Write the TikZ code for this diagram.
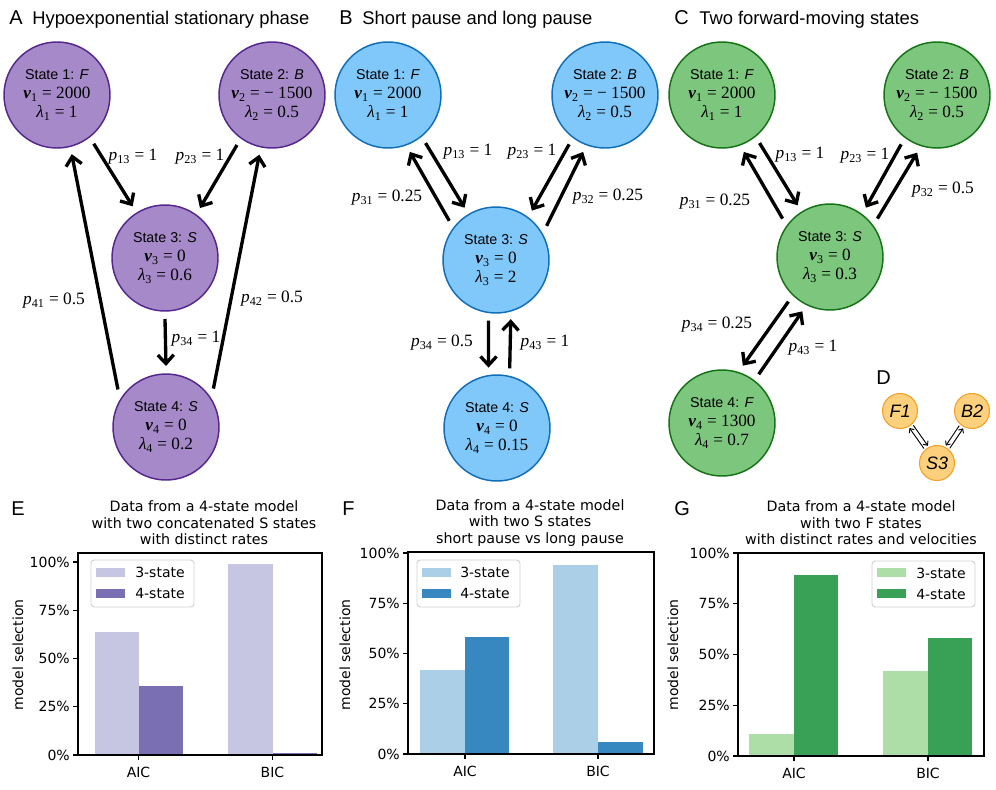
\documentclass[tikz,border=0pt]{standalone}
\usepackage{fontspec}
\setmainfont{Liberation Serif}
\newfontfamily\arial{Liberation Sans}
\newfontfamily\dejavu{DejaVu Sans}
\usetikzlibrary{arrows.meta}
\definecolor{pfill}{RGB}{166,137,200}
\definecolor{pedge}{RGB}{84,39,143}
\definecolor{bfill}{RGB}{128,200,250}
\definecolor{bedge}{RGB}{16,110,185}
\definecolor{gfill}{RGB}{125,198,125}
\definecolor{gedge}{RGB}{20,115,20}
\definecolor{dfill}{RGB}{253,208,125}
\definecolor{dedge}{RGB}{247,160,40}
\definecolor{elight}{RGB}{198,198,227}
\definecolor{edark}{RGB}{122,111,178}
\definecolor{flight}{RGB}{171,207,230}
\definecolor{fdark}{RGB}{55,135,192}
\definecolor{glight}{RGB}{173,222,167}
\definecolor{gdark}{RGB}{57,161,86}
\newcommand{\myv}[1]{\textbf{\textit{ν}}\textsubscript{#1}}
\newcommand{\mylam}[1]{\textit{λ}\textsubscript{#1}}
\newcommand{\myp}[1]{\textit{p}\textsubscript{#1}}
\newcommand{\stt}[4]{{\arial\fontsize{10.7}{14.25}\selectfont State #1: \textit{#2}}\\\myv{#1} = #3\\\mylam{#1} = #4}
\begin{document}
\begin{tikzpicture}[x=0.75pt,y=-0.75pt,
  st/.style={circle, minimum size=79.5pt, inner sep=0pt, outer sep=6pt, line width=1.1pt, align=center, font=\fontsize{12.9}{14.25}\selectfont},
  stA/.style={st, fill=pfill, draw=pedge},
  stB/.style={st, fill=bfill, draw=bedge},
  stC/.style={st, fill=gfill, draw=gedge},
  dst/.style={circle, minimum size=26.25pt, inner sep=0pt, outer sep=1.5pt, line width=0.8pt, fill=dfill, draw=dedge, font=\arial\itshape\fontsize{13.5}{15}\selectfont},
  lab/.style={inner sep=0pt, font=\fontsize{13}{14}\selectfont},
  arr/.style={line width=2.5pt, -{Straight Barb[length=6.5pt,width=12pt]}},
  darr/.style={line width=0.7pt, -{Straight Barb[length=2.5pt,width=4.5pt]}},
  letter/.style={anchor=base west, inner sep=0pt, font=\arial\fontsize{15}{18}\selectfont},
  ptitle/.style={anchor=base west, inner sep=0pt, font=\arial\fontsize{13.8}{16}\selectfont},
  ctitle/.style={inner sep=0pt, align=center, font=\dejavu\fontsize{10.7}{12.4}\selectfont},
  ctext/.style={inner sep=0pt, font=\dejavu\fontsize{10.5}{12}\selectfont},
  axisline/.style={line width=0.9pt, black},
  legbox/.style={draw=black!18, fill=white, rounded corners=2.5pt, line width=0.7pt}
]
\useasboundingbox (0,0) rectangle (996,789);

% ---------------- Panel A ----------------
\node[letter] (ltA) at (9,24) {A};
\node[ptitle] (ttA) at (32,24) {Hypoexponential stationary phase};
\node[stA] (a1) at (57,95) {\stt{1}{F}{2000}{1}};
\node[stA] (a2) at (272,95) {\stt{2}{B}{− 1500}{0.5}};
\node[stA] (a3) at (165,258) {\stt{3}{S}{0}{0.6}};
\node[stA] (a4) at (166,427) {\stt{4}{S}{0}{0.2}};
\draw[arr] (a1.-53.1) -- (a3.122.7);
\draw[arr] (a2.-125.9) -- (a3.55.5);
\draw[arr] (a4.142.1) -- (a1.-76.2);
\draw[arr] (a4.39.8) -- (a2.-102.2);
\draw[arr] (a3.-90) -- (a4.90);
\node[lab] (la13) at (133,157) {\myp{13} = 1};
\node[lab] (la23) at (200,157) {\myp{23} = 1};
\node[lab] (la41) at (54,301) {\myp{41} = 0.5};
\node[lab] (la42) at (272,299) {\myp{42} = 0.5};
\node[lab] (la34) at (196,339) {\myp{34} = 1};

% ---------------- Panel B ----------------
\node[letter] (ltB) at (339,24) {B};
\node[ptitle] (ttB) at (362,24) {Short pause and long pause};
\node[stB] (b1) at (388,95) {\stt{1}{F}{2000}{1}};
\node[stB] (b2) at (605,95) {\stt{2}{B}{− 1500}{0.5}};
\node[stB] (b3) at (496,260) {\stt{3}{S}{0}{2}};
\node[stB] (b4) at (497,428) {\stt{4}{S}{0}{0.15}};
\draw[arr] (b1.-52.5) -- (b3.121.7);
\draw[arr] (b3.140.4) -- (b1.-69.9);
\draw[arr] (b2.-126.7) -- (b3.54.6);
\draw[arr] (b3.34.2) -- (b2.-111.4);
\draw[arr] (b3.-97.6) -- (b4.98.1);
\draw[arr] (b4.78.2) -- (b3.-76.9);
\node[lab] (lb13) at (468,152) {\myp{13} = 1};
\node[lab] (lb23) at (532,152) {\myp{23} = 1};
\node[lab] (lb31) at (387,198) {\myp{31} = 0.25};
\node[lab] (lb32) at (608,197) {\myp{32} = 0.25};
\node[lab] (lb34) at (442,343) {\myp{34} = 0.5};
\node[lab] (lb43) at (545,343) {\myp{43} = 1};

% ---------------- Panel C ----------------
\node[letter] (ltC) at (674,24) {C};
\node[ptitle] (ttC) at (699,24) {Two forward-moving states};
\node[stC] (c1) at (722,95) {\stt{1}{F}{2000}{1}};
\node[stC] (c2) at (937,95) {\stt{2}{B}{− 1500}{0.5}};
\node[stC] (c3) at (830,257) {\stt{3}{S}{0}{0.3}};
\node[stC] (c4) at (722,423) {\stt{4}{F}{1300}{0.7}};
\draw[arr] (c1.-52.5) -- (c3.122.4);
\draw[arr] (c3.141.8) -- (c1.-69);
\draw[arr] (c2.-126.7) -- (c3.54.9);
\draw[arr] (c3.39.1) -- (c2.-109.3);
\draw[arr] (c3.-133.1) -- (c4.70.3);
\draw[arr] (c4.53.1) -- (c3.-117);
\node[lab] (lc13) at (800,155) {\myp{13} = 1};
\node[lab] (lc23) at (865,156) {\myp{23} = 1};
\node[lab] (lc31) at (715,202) {\myp{31} = 0.25};
\node[lab] (lc32) at (943,190) {\myp{32} = 0.5};
\node[lab] (lc34) at (717,325) {\myp{34} = 0.25};
\node[lab] (lc43) at (813,348) {\myp{43} = 1};

% ---------------- Panel D ----------------
\node[letter] (ltD) at (876,384) {D};
\node[dst] (dF) at (900,411) {F1};
\node[dst] (dB) at (972,411) {B2};
\node[dst] (dS) at (937,463) {S3};
\draw[darr] (dF.-47.6) -- (dS.118.4);
\draw[darr] (dS.132.4) -- (dF.-61.6);
\draw[darr] (dB.-131) -- (dS.63);
\draw[darr] (dS.49) -- (dB.-117);

% ---------------- Panel E ----------------
\node[letter] (ltE) at (11,515) {E};
\node[ctitle] (tE) at (204,523) {Data from a 4-state model\\with two concatenated S states\\with distinct rates};
\fill[elight] (95,631.5) rectangle (138.5,755);
\fill[edark] (138.5,685.5) rectangle (183,755);
\fill[elight] (228,564) rectangle (272.5,755);
\fill[edark] (272.5,753) rectangle (317,755);
\draw[axisline] (78,553) rectangle (322,755);
\foreach \v in {0,25,50,75,100} {
  \draw[axisline] (78,{755-1.93*\v}) -- ++(-5,0);
  \node[ctext, anchor=east] (eT\v) at (70,{755-1.93*\v}) {\v\%};
}
\draw[axisline] (138.5,755) -- ++(0,5);
\draw[axisline] (272.5,755) -- ++(0,5);
\node[ctext] (eA) at (138.5,772) {AIC};
\node[ctext] (eB) at (272.5,772) {BIC};
\node[ctext, rotate=90] (eY) at (18,655) {model selection};
\draw[legbox] (91,560) rectangle (194,607);
\fill[elight] (96,568) rectangle (125,577);
\fill[edark] (96,589) rectangle (125,598);
\node[ctext, anchor=west] (eL3) at (135,572.5) {3-state};
\node[ctext, anchor=west] (eL4) at (135,593.5) {4-state};

% ---------------- Panel F ----------------
\node[letter] (ltF) at (342,515) {F};
\node[ctitle] (tF) at (530,523) {Data from a 4-state model\\with two S states\\short pause vs long pause};
\fill[flight] (420,669.6) rectangle (465,754);
\fill[fdark] (465,637.4) rectangle (509,754);
\fill[flight] (553,565.1) rectangle (598,754);
\fill[fdark] (598,741.9) rectangle (643,754);
\draw[axisline] (408,552) rectangle (654,754);
\foreach \v in {0,25,50,75,100} {
  \draw[axisline] (408,{754-2.01*\v}) -- ++(-5,0);
  \node[ctext, anchor=east] (fT\v) at (400,{754-2.01*\v}) {\v\%};
}
\draw[axisline] (465,754) -- ++(0,5);
\draw[axisline] (598,754) -- ++(0,5);
\node[ctext] (fA) at (465,771) {AIC};
\node[ctext] (fB) at (598,771) {BIC};
\node[ctext, rotate=90] (fY) at (345,655) {model selection};
\draw[legbox] (417,560) rectangle (520,607);
\fill[flight] (422,567.5) rectangle (451,576.5);
\fill[fdark] (422,588.5) rectangle (451,597.5);
\node[ctext, anchor=west] (fL3) at (460,572) {3-state};
\node[ctext, anchor=west] (fL4) at (460,593) {4-state};

% ---------------- Panel G ----------------
\node[letter] (ltG) at (674,515) {G};
\node[ctitle] (tG) at (861,523) {Data from a 4-state model\\with two F states\\with distinct rates and velocities};
\fill[glight] (749,733.7) rectangle (794,756);
\fill[gdark] (794,575.3) rectangle (838,756);
\fill[glight] (883,670.7) rectangle (928,756);
\fill[gdark] (928,638.3) rectangle (972,756);
\draw[axisline] (738,553) rectangle (984,756);
\foreach \v in {0,25,50,75,100} {
  \draw[axisline] (738,{756-2.03*\v}) -- ++(-5,0);
  \node[ctext, anchor=east] (gT\v) at (730,{756-2.03*\v}) {\v\%};
}
\draw[axisline] (794,756) -- ++(0,5);
\draw[axisline] (928,756) -- ++(0,5);
\node[ctext] (gA) at (794,773) {AIC};
\node[ctext] (gB) at (928,773) {BIC};
\node[ctext, rotate=90] (gY) at (673,655) {model selection};
\draw[legbox] (872,561) rectangle (975,607);
\fill[glight] (877,568) rectangle (906,577);
\fill[gdark] (877,589) rectangle (906,598);
\node[ctext, anchor=west] (gL3) at (916,573) {3-state};
\node[ctext, anchor=west] (gL4) at (916,594) {4-state};
\end{tikzpicture}
\end{document}
